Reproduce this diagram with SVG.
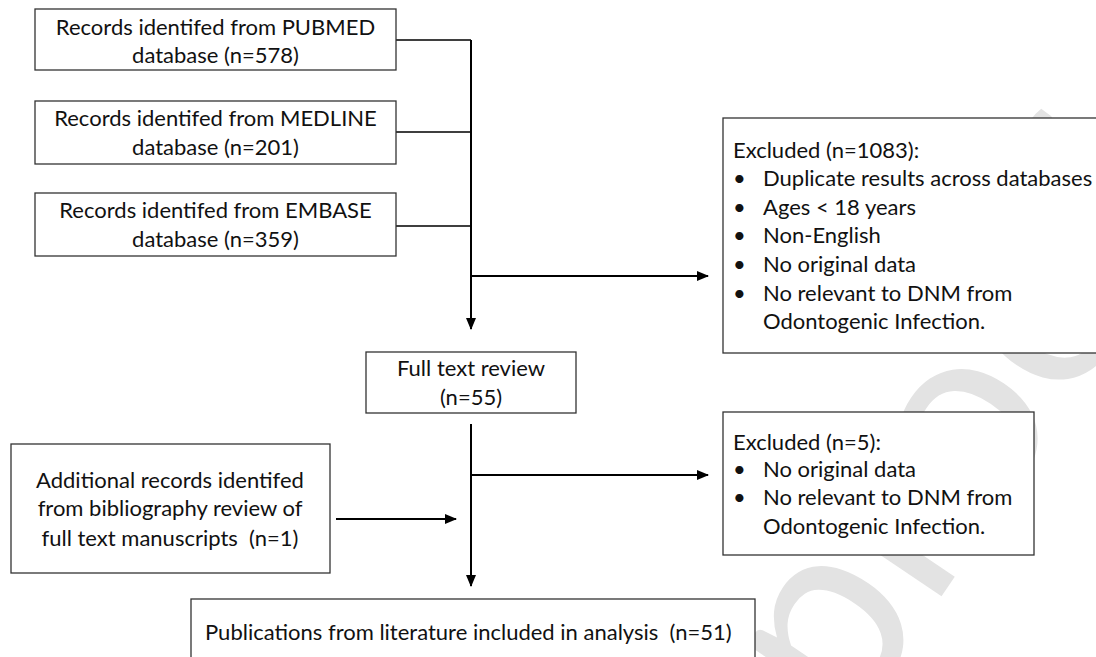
<svg xmlns="http://www.w3.org/2000/svg" width="1096" height="657" viewBox="0 0 1096 657">
<defs>
<style>
.box{fill:#fff;stroke:#333;stroke-width:1.3}
.t{font-family:Lato,"Liberation Sans",sans-serif;font-size:22px;fill:#111}
.c{text-anchor:middle}
.ln{stroke:#000;stroke-width:1.3;fill:none}
.ar{stroke:#000;stroke-width:2;fill:none}
.wm{font-family:Lato,"Liberation Sans",sans-serif;font-size:265px;fill:#e3e3e3}
</style>
<marker id="ah" markerWidth="12" markerHeight="10" refX="11" refY="5" orient="auto" markerUnits="userSpaceOnUse">
<path d="M0,0 L12,5 L0,10 Z" fill="#000"/>
</marker>
</defs>
<rect width="1096" height="657" fill="#fff"/>
<text class="wm" transform="translate(848,735) rotate(-56)">proof</text>
<g id="connectors">
<path class="ln" d="M396,40 H471 M396,132 H471 M396,226 H471"/>
<path class="ar" d="M471,40 V329" marker-end="url(#ah)"/>
<path class="ar" d="M471,276 H708" marker-end="url(#ah)"/>
<path class="ar" d="M471,424 V586" marker-end="url(#ah)"/>
<path class="ar" d="M471,475 H708" marker-end="url(#ah)"/>
<path class="ar" d="M336,519 H456" marker-end="url(#ah)"/>
</g>
<g id="pubmed">
<rect class="box" x="35" y="9" width="361" height="61"/>
<text class="t c" x="215.5" y="35">Records identifed from PUBMED</text>
<text class="t c" x="215.5" y="63">database (n=578)</text>
</g>
<g id="medline">
<rect class="box" x="35" y="101" width="361" height="63"/>
<text class="t c" x="215.5" y="126">Records identifed from MEDLINE</text>
<text class="t c" x="215.5" y="155">database (n=201)</text>
</g>
<g id="embase">
<rect class="box" x="35" y="193" width="361" height="63"/>
<text class="t c" x="215.5" y="218">Records identifed from EMBASE</text>
<text class="t c" x="215.5" y="247">database (n=359)</text>
</g>
<g id="excluded1">
<rect class="box" x="723" y="118" width="380" height="235"/>
<text class="t" x="733" y="158">Excluded (n=1083):</text>
<text class="t" x="733" y="186">•</text><text class="t" x="763" y="186">Duplicate results across databases</text>
<text class="t" x="733" y="215">•</text><text class="t" x="763" y="215">Ages &lt; 18 years</text>
<text class="t" x="733" y="243">•</text><text class="t" x="763" y="243">Non-English</text>
<text class="t" x="733" y="272">•</text><text class="t" x="763" y="272">No original data</text>
<text class="t" x="733" y="301">•</text><text class="t" x="763" y="301">No relevant to DNM from</text>
<text class="t" x="763" y="329">Odontogenic Infection.</text>
</g>
<g id="fulltext">
<rect class="box" x="366" y="352" width="210" height="61"/>
<text class="t c" x="471" y="376">Full text review</text>
<text class="t c" x="471" y="405">(n=55)</text>
</g>
<g id="additional">
<rect class="box" x="11" y="444" width="319" height="129"/>
<text class="t c" x="170" y="488">Additional records identifed</text>
<text class="t c" x="170" y="516">from bibliography review of</text>
<text class="t c" x="170" y="546" xml:space="preserve">full text manuscripts  (n=1)</text>
</g>
<g id="excluded2">
<rect class="box" x="723" y="412" width="311" height="143"/>
<text class="t" x="733" y="450">Excluded (n=5):</text>
<text class="t" x="733" y="477">•</text><text class="t" x="763" y="477">No original data</text>
<text class="t" x="733" y="505">•</text><text class="t" x="763" y="505">No relevant to DNM from</text>
<text class="t" x="763" y="534">Odontogenic Infection.</text>
</g>
<g id="publications">
<rect class="box" x="191" y="599" width="564" height="70"/>
<text class="t" x="205" y="640" xml:space="preserve">Publications from literature included in analysis  (n=51)</text>
</g>
</svg>
